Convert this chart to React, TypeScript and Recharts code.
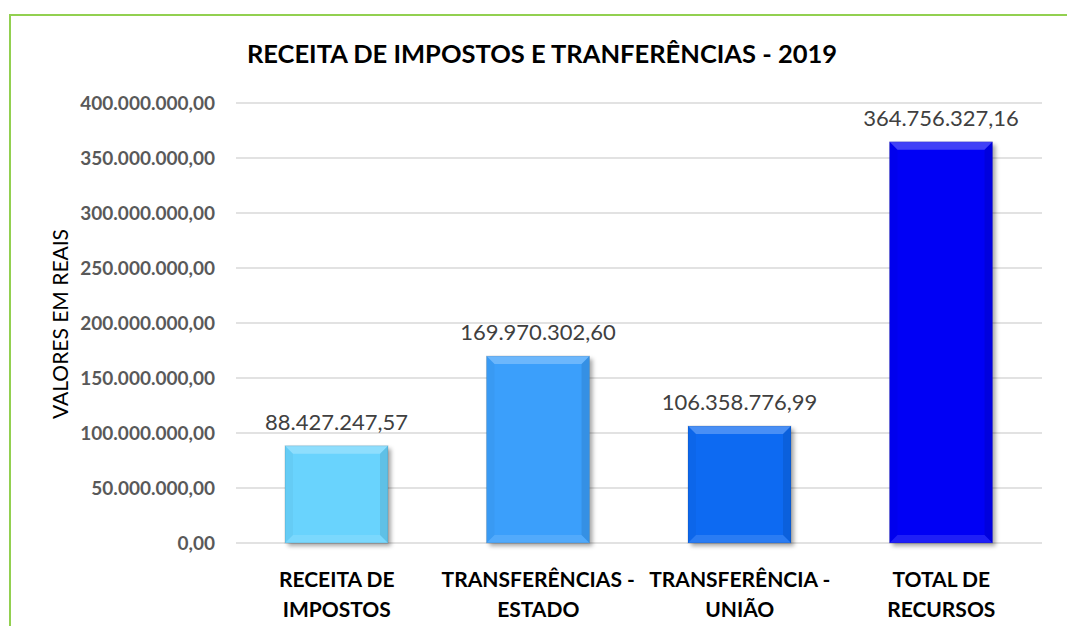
import React from "react";
import { Bar, BarChart, CartesianGrid, Cell, LabelList, XAxis, YAxis } from "recharts";

const categories = [
  "RECEITA DE\nIMPOSTOS",
  "TRANSFERÊNCIAS -\nESTADO",
  "TRANSFERÊNCIA -\nUNIÃO",
  "TOTAL DE\nRECURSOS",
];
const values = [88427247.57, 169970302.6, 106358776.99, 364756327.16];
const yTicks = [0, 50000000, 100000000, 150000000, 200000000, 250000000, 300000000, 350000000, 400000000];

const barColors = ["#69D3FD", "#3A9FFB", "#0D6AF2", "#0000F5"];
const FONT = "Lato, 'Open Sans', sans-serif";

const chartData = categories.map((name, i) => ({ name, value: values[i] }));

// 1234567.8 -> "1.234.567,80"
const formatBR = (v: number) => {
  const [int, dec] = v.toFixed(2).split(".");
  return int.replace(/\B(?=(\d{3})+(?!\d))/g, ".") + "," + dec;
};

const BevelBar = (props: any) => {
  const { x, y, width, height, fill } = props;
  if (!height || height <= 0) return null;
  const b = Math.min(8, height / 3);
  const r = x + width;
  const btm = y + height;
  return (
    <g>
      <rect x={x} y={y} width={width} height={height} fill={fill} filter="url(#barShadow)" />
      <polygon points={`${x},${y} ${r},${y} ${r - b},${y + b} ${x + b},${y + b}`} fill="#fff" fillOpacity={0.25} />
      <polygon points={`${r},${y} ${r},${btm} ${r - b},${btm - b} ${r - b},${y + b}`} fill="#000" fillOpacity={0.09} />
      <polygon points={`${x},${y} ${x + b},${y + b} ${x + b},${btm - b} ${x},${btm}`} fill="#000" fillOpacity={0.03} />
      <polygon points={`${x},${btm} ${x + b},${btm - b} ${r - b},${btm - b} ${r},${btm}`} fill="#fff" fillOpacity={0.12} />
      <rect x={x} y={y} width={width} height={height} fill="none" stroke="#000" strokeOpacity={0.12} strokeWidth={1} />
    </g>
  );
};

const YTick = (props: any) => {
  const { x, y, payload } = props;
  return (
    <text x={x} y={y + 6.5} textAnchor="end" fill="#595959" fontFamily={FONT} fontWeight="bold" fontSize={19}>
      {formatBR(payload.value)}
    </text>
  );
};

const XTick = (props: any) => {
  const { x, y, payload } = props;
  const lines = String(payload.value).split("\n");
  return (
    <text textAnchor="middle" fill="#000" fontFamily={FONT} fontWeight="bold" fontSize={21}>
      {lines.map((line, i) => (
        <tspan key={i} x={x} y={y + 36 + i * 30}>
          {line}
        </tspan>
      ))}
    </text>
  );
};

const ValueLabel = (props: any) => {
  const { x, y, width, value } = props;
  return (
    <text x={x + width / 2} y={y - 16} textAnchor="middle" fill="#404040" fontFamily={FONT} fontSize={22}>
      {formatBR(value)}
    </text>
  );
};

const AxisTitle = () => (
  <text
    x={68}
    y={324}
    transform="rotate(-90 68 324)"
    textAnchor="middle"
    fill="#000"
    fontFamily={FONT}
    fontSize={21}
  >
    VALORES EM REAIS
  </text>
);

export default function App() {
  return (
    <div style={{ position: "absolute", left: 0, top: 0, width: 1067, height: 626, background: "#fff", overflow: "hidden" }}>
      <div
        style={{
          position: "absolute",
          left: 9,
          top: 14,
          width: 1100,
          height: 700,
          borderLeft: "2px solid #92D050",
          borderTop: "2px solid #92D050",
        }}
      />
      <div
        style={{
          position: "absolute",
          left: 0,
          width: 1084,
          top: 38,
          textAlign: "center",
          fontFamily: FONT,
          fontWeight: "bold",
          fontSize: 25.5,
          color: "#000",
          whiteSpace: "nowrap",
        }}
      >
        RECEITA DE IMPOSTOS E TRANFERÊNCIAS - 2019
      </div>
      <div style={{ position: "absolute", left: 0, top: 0 }}>
        <BarChart width={1067} height={626} data={chartData} margin={{ top: 103, right: 25, bottom: 0, left: 0 }} barSize={103}>
          <defs>
            <filter id="barShadow" x="-10%" y="-10%" width="130%" height="130%">
              <feDropShadow dx={3} dy={3} stdDeviation={2} floodColor="#000" floodOpacity={0.35} />
            </filter>
          </defs>
          <CartesianGrid vertical={false} stroke="#D9D9D9" strokeWidth={1.5} />
          <XAxis dataKey="name" height={83} axisLine={false} tickLine={false} tick={<XTick />} interval={0} />
          <YAxis
            width={236}
            domain={[0, 400000000]}
            ticks={yTicks}
            axisLine={false}
            tickLine={false}
            tickSize={0}
            tickMargin={21}
            tick={<YTick />}
            label={{ content: () => <AxisTitle /> }}
          />
          <Bar dataKey="value" isAnimationActive={false} shape={<BevelBar />}>
            {chartData.map((d, i) => (
              <Cell key={d.name} fill={barColors[i]} />
            ))}
            <LabelList dataKey="value" content={<ValueLabel />} />
          </Bar>
        </BarChart>
      </div>
    </div>
  );
}
